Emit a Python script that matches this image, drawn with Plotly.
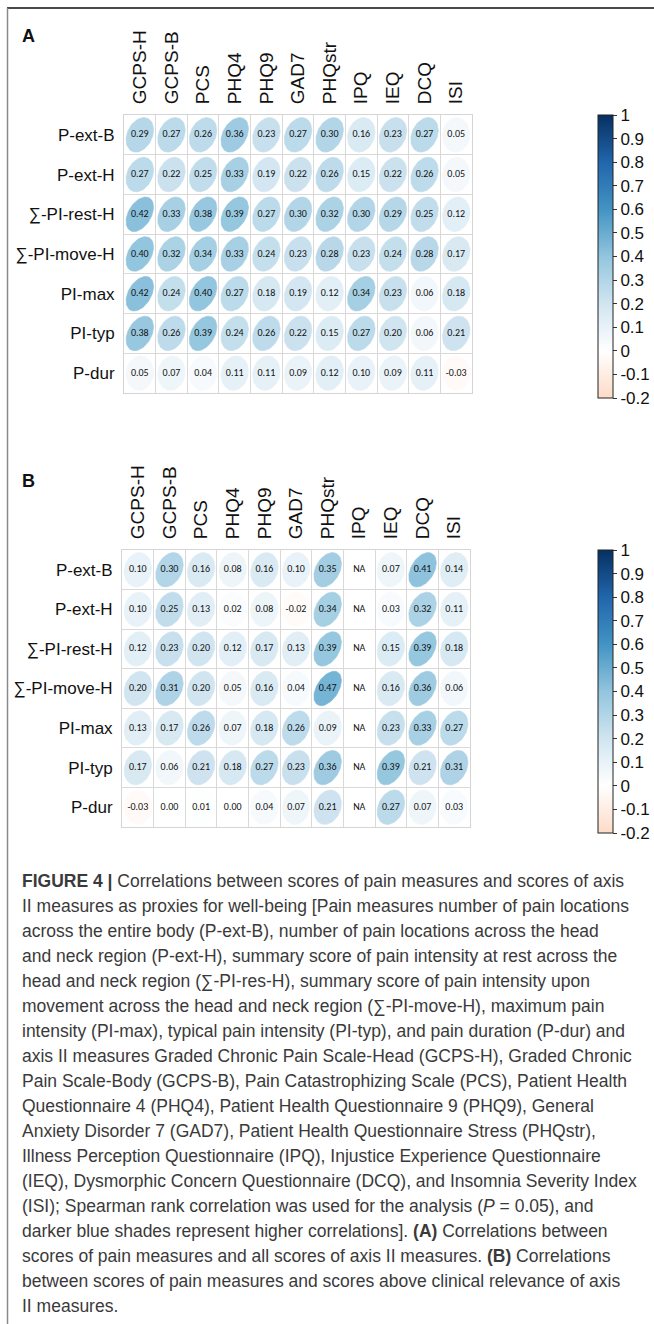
import math
import plotly.graph_objects as go

# ---------------- data ----------------
columns = ["GCPS-H", "GCPS-B", "PCS", "PHQ4", "PHQ9", "GAD7", "PHQstr", "IPQ", "IEQ", "DCQ", "ISI"]
rows = ["P-ext-B", "P-ext-H", "∑-PI-rest-H", "∑-PI-move-H", "PI-max", "PI-typ", "P-dur"]

# Panel A: all scores of axis II measures
a_p_ext_b = [0.29, 0.27, 0.26, 0.36, 0.23, 0.27, 0.30, 0.16, 0.23, 0.27, 0.05]
a_p_ext_h = [0.27, 0.22, 0.25, 0.33, 0.19, 0.22, 0.26, 0.15, 0.22, 0.26, 0.05]
a_pi_rest_h = [0.42, 0.33, 0.38, 0.39, 0.27, 0.30, 0.32, 0.30, 0.29, 0.25, 0.12]
a_pi_move_h = [0.40, 0.32, 0.34, 0.33, 0.24, 0.23, 0.28, 0.23, 0.24, 0.28, 0.17]
a_pi_max = [0.42, 0.24, 0.40, 0.27, 0.18, 0.19, 0.12, 0.34, 0.23, 0.06, 0.18]
a_pi_typ = [0.38, 0.26, 0.39, 0.24, 0.26, 0.22, 0.15, 0.27, 0.20, 0.06, 0.21]
a_p_dur = [0.05, 0.07, 0.04, 0.11, 0.11, 0.09, 0.12, 0.10, 0.09, 0.11, -0.03]

# Panel B: scores above clinical relevance (IPQ not available)
b_p_ext_b = [0.10, 0.30, 0.16, 0.08, 0.16, 0.10, 0.35, None, 0.07, 0.41, 0.14]
b_p_ext_h = [0.10, 0.25, 0.13, 0.02, 0.08, -0.02, 0.34, None, 0.03, 0.32, 0.11]
b_pi_rest_h = [0.12, 0.23, 0.20, 0.12, 0.17, 0.13, 0.39, None, 0.15, 0.39, 0.18]
b_pi_move_h = [0.20, 0.31, 0.20, 0.05, 0.16, 0.04, 0.47, None, 0.16, 0.36, 0.06]
b_pi_max = [0.13, 0.17, 0.26, 0.07, 0.18, 0.26, 0.09, None, 0.23, 0.33, 0.27]
b_pi_typ = [0.17, 0.06, 0.21, 0.18, 0.27, 0.23, 0.36, None, 0.39, 0.21, 0.31]
b_p_dur = [-0.03, 0.00, 0.01, 0.00, 0.04, 0.07, 0.21, None, 0.27, 0.07, 0.03]

colorbar_ticks = [1, 0.9, 0.8, 0.7, 0.6, 0.5, 0.4, 0.3, 0.2, 0.1, 0, -0.1, -0.2]
colorbar_labels = ["1", "0.9", "0.8", "0.7", "0.6", "0.5", "0.4", "0.3", "0.2", "0.1", "0", "-0.1", "-0.2"]

caption_lines = [
    "<b>FIGURE 4 |</b> Correlations between scores of pain measures and scores of axis",
    "II measures as proxies for well-being [Pain measures number of pain locations",
    "across the entire body (P-ext-B), number of pain locations across the head",
    "and neck region (P-ext-H), summary score of pain intensity at rest across the",
    "head and neck region (∑-PI-res-H), summary score of pain intensity upon",
    "movement across the head and neck region (∑-PI-move-H), maximum pain",
    "intensity (PI-max), typical pain intensity (PI-typ), and pain duration (P-dur) and",
    "axis II measures Graded Chronic Pain Scale-Head (GCPS-H), Graded Chronic",
    "Pain Scale-Body (GCPS-B), Pain Catastrophizing Scale (PCS), Patient Health",
    "Questionnaire 4 (PHQ4), Patient Health Questionnaire 9 (PHQ9), General",
    "Anxiety Disorder 7 (GAD7), Patient Health Questionnaire Stress (PHQstr),",
    "Illness Perception Questionnaire (IPQ), Injustice Experience Questionnaire",
    "(IEQ), Dysmorphic Concern Questionnaire (DCQ), and Insomnia Severity Index",
    "(ISI); Spearman rank correlation was used for the analysis (<i>P</i> = 0.05), and",
    "darker blue shades represent higher correlations]. <b>(A)</b> Correlations between",
    "scores of pain measures and all scores of axis II measures. <b>(B)</b> Correlations",
    "between scores of pain measures and scores above clinical relevance of axis",
    "II measures.",
]

matrix_a = [a_p_ext_b, a_p_ext_h, a_pi_rest_h, a_pi_move_h, a_pi_max, a_pi_typ, a_p_dur]
matrix_b = [b_p_ext_b, b_p_ext_h, b_pi_rest_h, b_pi_move_h, b_pi_max, b_pi_typ, b_p_dur]

# ---------------- styling ----------------
W, H = 654, 1324
CMIN, CMAX = -0.2, 1.0
# corrplot RdBu anchors from -1 to 1
rdbu = ["#67001F", "#B2182B", "#D6604D", "#F4A582", "#FDDBC7", "#FFFFFF",
        "#D1E5F0", "#92C5DE", "#4393C3", "#2166AC", "#053061"]


def hex2rgb(h):
    h = h.lstrip("#")
    return tuple(int(h[i:i + 2], 16) for i in (0, 2, 4))


def color_of(v):
    t = (v + 1) / 2 * (len(rdbu) - 1)
    i = max(0, min(len(rdbu) - 2, int(math.floor(t))))
    f = t - i
    c0, c1 = hex2rgb(rdbu[i]), hex2rgb(rdbu[i + 1])
    c = [round(c0[k] + (c1[k] - c0[k]) * f) for k in range(3)]
    return "rgb(%d,%d,%d)" % tuple(c)


# colorscale restricted to the shown range
cs_vals = [CMIN + (CMAX - CMIN) * s / 24 for s in range(25)]
colorscale = [[(v - CMIN) / (CMAX - CMIN), color_of(v)] for v in cs_vals]

FONT = "Liberation Sans, Arial, sans-serif"
NUMFONT = "Liberation Sans Narrow, Carlito, Roboto, sans-serif"


def px_x(p):
    return p / W


def px_y(p):
    return 1 - p / H


fig = go.Figure()

panels = [
    dict(m=matrix_a, xa="x", ya="y", x0=124, x1=472, y0=115, y1=393, cb_top=115, cb_len=283),
    dict(m=matrix_b, xa="x2", ya="y2", x0=122, x1=470, y0=550, y1=827, cb_top=550, cb_len=283),
]

for p in panels:
    m = p["m"]
    tx, ty, tt = [], [], []
    for j, row in enumerate(m):
        for i, v in enumerate(row):
            tx.append(i)
            ty.append(j)
            if v is None:
                tt.append("NA")
                continue
            tt.append("%.2f" % v)
            a = math.acos(max(-1, min(1, v))) / 2
            ex, ey = [], []
            for s in range(73):
                k = 2 * math.pi * s / 72
                ex.append(i + 0.87 * math.cos(k + a) / 2)
                ey.append(j - 0.87 * math.cos(k - a) / 2)
            fig.add_trace(go.Scatter(
                x=ex, y=ey, mode="lines", fill="toself",
                fillcolor=color_of(v), line=dict(width=0.6, color=color_of(v)),
                hoverinfo="skip", showlegend=False, xaxis=p["xa"], yaxis=p["ya"]))
    fig.add_trace(go.Scatter(
        x=tx, y=ty, mode="text", text=tt,
        textfont=dict(family=NUMFONT, size=10, color="#111111"),
        hoverinfo="skip", showlegend=False, xaxis=p["xa"], yaxis=p["ya"]))
    # colorbar carrier
    fig.add_trace(go.Scatter(
        x=[0, 0], y=[0, 0], mode="markers",
        marker=dict(size=0.1, opacity=0, color=[CMIN, CMAX], colorscale=colorscale,
                    cmin=CMIN, cmax=CMAX, showscale=True,
                    colorbar=dict(
                        x=px_x(598), xanchor="left", y=px_y(p["cb_top"]), yanchor="top",
                        len=p["cb_len"], lenmode="pixels", thickness=15, thicknessmode="pixels",
                        xpad=0, ypad=0, outlinewidth=1, outlinecolor="#222222",
                        ticks="outside", ticklen=4, tickwidth=1, tickcolor="#333333",
                        tickmode="array", tickvals=colorbar_ticks, ticktext=colorbar_labels,
                        tickfont=dict(family=FONT, size=17, color="#111111"))),
        hoverinfo="skip", showlegend=False, xaxis=p["xa"], yaxis=p["ya"]))

grid_x = [i - 0.5 for i in range(len(columns) + 1)]
grid_y = [j - 0.5 for j in range(len(rows) + 1)]

for p, xname, yname in [(panels[0], "xaxis", "yaxis"), (panels[1], "xaxis2", "yaxis2")]:
    fig.layout[xname] = dict(
        domain=[px_x(p["x0"]), px_x(p["x1"])], range=[-0.5, len(columns) - 0.5],
        anchor=p["ya"], side="top", tickmode="array", tickvals=list(range(len(columns))),
        ticktext=columns, tickangle=-90, tickfont=dict(family=FONT, size=19, color="#111111"),
        ticks="outside", ticklen=6, tickcolor="rgba(0,0,0,0)", showgrid=False, zeroline=False,
        showline=True, mirror=True, linecolor="#d4d4d4", linewidth=1,
        minor=dict(tickmode="array", tickvals=grid_x, showgrid=True, gridcolor="#d9d9d9",
                   gridwidth=1, ticks=""),
        fixedrange=True)
    fig.layout[yname] = dict(
        domain=[px_y(p["y1"]), px_y(p["y0"])], range=[len(rows) - 0.5, -0.5],
        anchor=p["xa"], tickmode="array", tickvals=list(range(len(rows))), ticktext=rows,
        tickfont=dict(family=FONT, size=17, color="#111111"),
        ticks="outside", ticklen=5, tickcolor="rgba(0,0,0,0)", showgrid=False, zeroline=False,
        showline=True, mirror=True, linecolor="#d4d4d4", linewidth=1,
        minor=dict(tickmode="array", tickvals=grid_y, showgrid=True, gridcolor="#d9d9d9",
                   gridwidth=1, ticks=""),
        fixedrange=True)

annotations = [
    dict(text="<b>A</b>", x=px_x(20), y=px_y(36), xref="paper", yref="paper",
         xanchor="left", yanchor="middle", showarrow=False,
         font=dict(family=FONT, size=18, color="#111111")),
    dict(text="<b>B</b>", x=px_x(20), y=px_y(481), xref="paper", yref="paper",
         xanchor="left", yanchor="middle", showarrow=False,
         font=dict(family=FONT, size=18, color="#111111")),
]
for n, line in enumerate(caption_lines):
    annotations.append(dict(
        text=line, x=px_x(20), y=px_y(881 + 25 * n), xref="paper", yref="paper",
        xanchor="left", yanchor="middle", showarrow=False, align="left",
        font=dict(family=FONT, size=17.5, color="#3a3a3a")))

shapes = [
    dict(type="line", xref="paper", yref="paper", x0=px_x(7), x1=1, y0=px_y(8), y1=px_y(8),
         line=dict(color="#4a4a4a", width=2)),
    dict(type="line", xref="paper", yref="paper", x0=px_x(7.5), x1=px_x(7.5), y0=px_y(8), y1=0,
         line=dict(color="#8a8a8a", width=1.5)),
]

fig.update_layout(
    width=W, height=H, margin=dict(l=0, r=0, t=0, b=0),
    paper_bgcolor="white", plot_bgcolor="white",
    annotations=annotations, shapes=shapes, showlegend=False,
)

fig.write_html("out.html", config={"displayModeBar": False},
               post_script="document.body.style.margin='0';")
